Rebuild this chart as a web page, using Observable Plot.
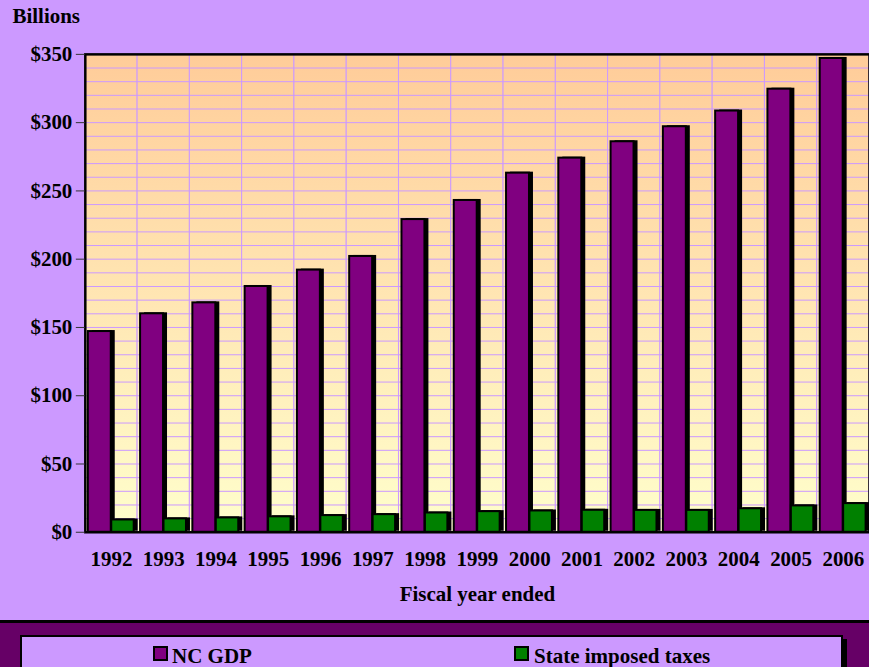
<!DOCTYPE html>
<html>
<head>
<meta charset="utf-8">
<script src="https://cdn.jsdelivr.net/npm/d3@7"></script>
<script src="https://cdn.jsdelivr.net/npm/@observablehq/plot@0.6"></script>
<style>
  html, body { margin: 0; padding: 0; background: #CC99FF; overflow: hidden; }
  body { width: 869px; height: 667px; font-family: "Liberation Serif", "Times New Roman", serif; }
  #chart svg { display: block; }
  #legend { position: relative; width: 869px; height: 46px; background: #660066; border-top: 3px solid #000; overflow: hidden; }
  #legend .box { position: absolute; left: 20px; top: 12px; width: 823px; height: 60px; box-sizing: border-box;
    background: #CC99FF; border: 2.5px solid #000; box-shadow: 4px 4px 0 #000; }
  #legend .sw { position: absolute; top: 9px; width: 15px; height: 15px; box-sizing: border-box; border: 2px solid #000; }
  #legend .lb { position: absolute; top: 9px; font: bold 21px/21px "Liberation Serif", "Times New Roman", serif; color: #000; white-space: nowrap; }
</style>
</head>
<body>
<div id="chart"></div>
<div id="legend"><div class="box"></div></div>
<script>
// ---- data ----
const years = ["1992","1993","1994","1995","1996","1997","1998","1999","2000","2001","2002","2003","2004","2005","2006"];
const ncGdp = [147, 160, 168, 180, 192, 202, 229, 243, 263, 274, 286, 297, 308.5, 324.5, 347];
const stateTaxes = [9, 9.8, 10.5, 11.3, 12.2, 12.9, 14.1, 15.1, 15.6, 16.1, 16, 16, 17.2, 19.3, 21];
const seriesNames = ["NC GDP", "State imposed taxes"];
const seriesColors = ["#800080", "#008000"];
const yTickValues = [0, 50, 100, 150, 200, 250, 300, 350];
const yGridValues = [10, 20, 30, 40, 50, 60, 70, 80, 90, 100, 110, 120, 130, 140, 150, 160, 170, 180, 190, 200, 210, 220, 230, 240, 250, 260, 270, 280, 290, 300, 310, 320, 330, 340];

const rows = years.map((y, i) => ({year: y, gdp: ncGdp[i], tax: stateTaxes[i]}));

const font = "'Liberation Serif', 'Times New Roman', serif";

const chart = Plot.plot({
  width: 871,
  height: 621,
  marginLeft: 85,
  marginRight: 0,
  marginTop: 54,
  marginBottom: 88,
  style: {background: "transparent", fontFamily: font, color: "#000", overflow: "visible"},
  x: {domain: years, padding: 0, round: false, axis: null},
  y: {domain: [0, 350], axis: null},
  marks: [
    Plot.cell(years, {x: d => d, fill: "url(#bgGrad)", stroke: "#CC99FF", strokeWidth: 1}),
    Plot.gridY(yGridValues, {stroke: "#CC99FF", strokeOpacity: 1, strokeWidth: 1}),
    Plot.frame({stroke: "#000", strokeWidth: 2.5}),
    // NC GDP
    Plot.barY(rows, {x: "year", y: "gdp", fill: "#000", insetLeft: 3, insetRight: 26.4, dx: 4, dy: -1}),
    Plot.barY(rows, {x: "year", y: "gdp", fill: seriesColors[0], stroke: "#000", strokeWidth: 2, insetLeft: 3, insetRight: 26.4}),
    // State taxes
    Plot.barY(rows, {x: "year", y: "tax", fill: "#000", insetLeft: 26.5, insetRight: 3.4, dx: 4, dy: -1}),
    Plot.barY(rows, {x: "year", y: "tax", fill: seriesColors[1], stroke: "#000", strokeWidth: 2, insetLeft: 26.5, insetRight: 3.4}),
    Plot.axisY(yTickValues, {tickSize: 9, tickPadding: 4, tickFormat: d => "$" + d, fontSize: 21, fontWeight: "bold", label: null, stroke: "#333"}),
    Plot.axisX({tickSize: 0, tickPadding: 19, fontSize: 21, fontWeight: "bold", label: null}),
    Plot.text(["Fiscal year ended"], {frameAnchor: "bottom", dy: 62, fontSize: 21, fontWeight: "bold", lineAnchor: "middle", fill: "#000"}),
    Plot.text(["Billions"], {frameAnchor: "top-left", dx: -73, dy: -38, textAnchor: "start", lineAnchor: "middle", fontSize: 21, fontWeight: "bold", fill: "#000"})
  ]
});

// gradient definition for the plot background
const svg = d3.select(chart);
const defs = svg.insert("defs", ":first-child");
const grad = defs.append("linearGradient").attr("id", "bgGrad").attr("x1", 0).attr("y1", 0).attr("x2", 0).attr("y2", 1);
grad.append("stop").attr("offset", "0%").attr("stop-color", "#FFCC99");
grad.append("stop").attr("offset", "100%").attr("stop-color", "#FFFFCC");

document.getElementById("chart").appendChild(chart);

// legend
const box = document.querySelector("#legend .box");
const legendPos = [{sw: 130.5, lb: 150}, {sw: 492, lb: 512}];
seriesNames.forEach((name, i) => {
  const sw = document.createElement("div");
  sw.className = "sw";
  sw.style.left = legendPos[i].sw + "px";
  sw.style.background = seriesColors[i];
  box.appendChild(sw);
  const lb = document.createElement("div");
  lb.className = "lb";
  lb.style.left = legendPos[i].lb + "px";
  lb.textContent = name;
  box.appendChild(lb);
});
</script>
</body>
</html>
